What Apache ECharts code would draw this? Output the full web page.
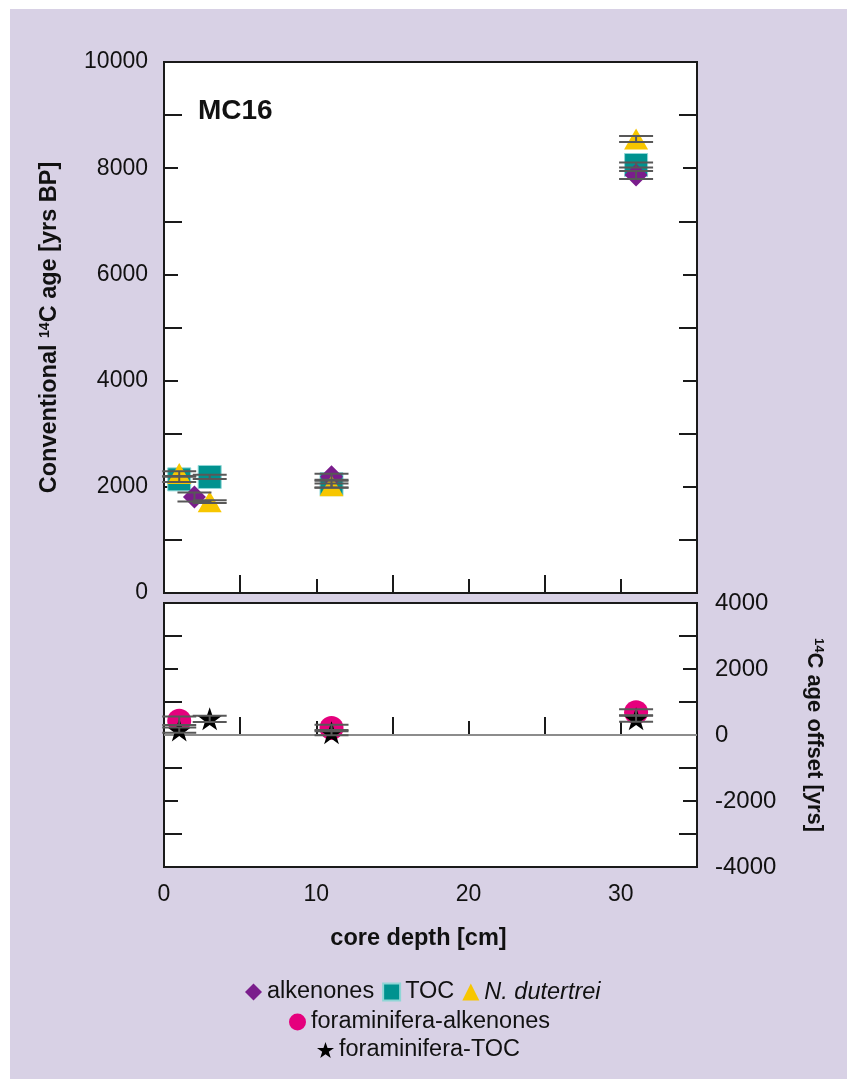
<!DOCTYPE html>
<html><head><meta charset="utf-8">
<script src="https://cdn.jsdelivr.net/npm/echarts@6/dist/echarts.min.js"></script>
<style>html,body{margin:0;padding:0;background:#fff}#c{width:847px;height:1079px}</style>
</head><body><div id="c"></div>
<script>
// ---- data ----
const alkDepth = [2, 11, 31];
const alkAge   = [1810, 2190, 7870];
const alkErr   = [85, 57, 75];

const tocDepth = [1, 3, 11, 31];
const tocAge   = [2140, 2185, 2050, 8060];
const tocErr   = [50, 40, 63, 47];

const ndDepth  = [1, 3, 11, 31];
const ndAge    = [2250, 1720, 2020, 8550];
const ndErr    = [45, 25, 40, 55];

const faDepth  = [1, 11, 31];
const faOffset = [430, 210, 690];
const faErr    = [130, 100, 90];

const ftDepth  = [1, 3, 11, 31];
const ftOffset = [150, 490, 70, 490];
const ftErr    = [80, 95, 80, 90];

const zeroLine = [[0, 0], [35, 0]];

// ---- styles ----
const FONT = "'Liberation Sans', Arial, Helvetica, sans-serif";
const INK = '#111';
const STAR = 'path://M50,0 L61.8,35.1 L98.9,35.1 L69,56.7 L80.3,91.9 L50,70.2 L19.7,91.9 L31,56.7 L1.1,35.1 L38.2,35.1 Z';

const pts = (x, y) => x.map((v, i) => [v, y[i]]);
const errs = (x, y, e) => x.map((v, i) => [v, y[i], e[i]]);

function errRender(params, api) {
  const x = api.value(0), y = api.value(1), e = api.value(2);
  const t = api.coord([x, y + e]);
  const b = api.coord([x, y - e]);
  const hw = 17;
  const st = { stroke: '#585858', lineWidth: 2 };
  return { type: 'group', children: [
    { type: 'line', shape: { x1: t[0] - hw, y1: t[1], x2: t[0] + hw, y2: t[1] }, style: st },
    { type: 'line', shape: { x1: b[0] - hw, y1: b[1], x2: b[0] + hw, y2: b[1] }, style: st },
    { type: 'line', shape: { x1: t[0], y1: t[1], x2: b[0], y2: b[1] }, style: st }
  ]};
}
function errSeries(name, x, y, e, xi) {
  return { name, type: 'custom', xAxisIndex: xi, yAxisIndex: xi === 0 ? 0 : 2,
    renderItem: errRender, data: errs(x, y, e), z: 6, silent: true };
}

const tickBase = {
  axisLine: { show: true, lineStyle: { color: '#1a1a1a', width: 2 } },
  axisTick: { show: true, inside: true, length: 14, lineStyle: { color: '#1a1a1a', width: 2 } },
  minorTick: { show: true, splitNumber: 2, length: 18, lineStyle: { color: '#1a1a1a', width: 2 } },
  splitLine: { show: false }, minorSplitLine: { show: false }
};
const labelStyle = { color: INK, fontSize: 23, fontFamily: FONT };
const legendText = { color: INK, fontSize: 23.5, fontFamily: FONT };

function xAx(gi, showLabel, extra) {
  return Object.assign({ type: 'value', gridIndex: gi, min: 0, max: 35, interval: 10, position: 'bottom',
    axisLabel: Object.assign({ show: showLabel, margin: 16, formatter: v => (v > 30 ? '' : String(v)) }, labelStyle) }, tickBase, extra || {});
}
function yAx(gi, pos, min, max, showLabel, extra) {
  return Object.assign({ type: 'value', gridIndex: gi, position: pos, min, max, interval: 2000,
    axisLabel: Object.assign({ show: showLabel, margin: pos === 'left' ? 16 : 18, formatter: v => String(v) }, labelStyle,
      pos === 'right' ? { fontSize: 24 } : {}) }, tickBase, extra || {});
}

const nameRich = (fs) => ({
  b: { fontSize: fs, fontWeight: 'bold', fontFamily: FONT, color: INK },
  s: { fontSize: Math.round(fs * 0.6), fontWeight: 'bold', fontFamily: FONT, color: INK, verticalAlign: 'top', padding: [0, 0, 8, 0] }
});

const option = {
  backgroundColor: 'rgb(216,209,229)',
  animation: false,
  graphic: [
    { type: 'rect', left: 0, top: 0, shape: { width: 847, height: 9 }, style: { fill: '#fff' }, z: 100 },
    { type: 'rect', left: 0, top: 0, shape: { width: 10, height: 1079 }, style: { fill: '#fff' }, z: 100 },
    { type: 'text', left: 198, top: 97, style: { text: 'MC16', fontSize: 28, fontWeight: 'bold', fontFamily: FONT, fill: INK }, z: 100 }
  ],
  grid: [
    { left: 164, top: 62, width: 533, height: 531, show: true, backgroundColor: '#fff', borderColor: '#1a1a1a', borderWidth: 2 },
    { left: 164, top: 603, width: 533, height: 264, show: true, backgroundColor: '#fff', borderColor: '#1a1a1a', borderWidth: 2 }
  ],
  xAxis: [
    xAx(0, false),
    xAx(1, true, { name: 'core depth [cm]', nameLocation: 'middle', nameGap: 60,
      nameTextStyle: { fontSize: 23.5, fontWeight: 'bold', fontFamily: FONT, color: INK, padding: [0, 24, 0, 0] } })
  ],
  yAxis: [
    yAx(0, 'left', 0, 10000, true, { name: '{b|Conventional }{s|14}{b|C age [yrs BP]}', nameLocation: 'middle', nameGap: 102,
      nameTextStyle: { rich: nameRich(23.5) } }),
    yAx(0, 'right', 0, 10000, false),
    yAx(1, 'left', -4000, 4000, false),
    yAx(1, 'right', -4000, 4000, true, { name: '{s|14}{b|C age offset [yrs]}', nameLocation: 'middle', nameGap: 106, nameRotate: -90,
      nameTextStyle: { rich: nameRich(22) } })
  ],
  legend: [
    { left: 245, top: 980, padding: 0, itemWidth: 17, itemHeight: 17, itemGap: 8, textStyle: legendText,
      data: ['alkenones', 'TOC', { name: 'N. dutertrei', textStyle: { fontStyle: 'italic' } }] },
    { left: 289, top: 1010, padding: 0, itemWidth: 17, itemHeight: 17, textStyle: legendText, data: ['foraminifera-alkenones'] },
    { left: 317, top: 1038, padding: 0, itemWidth: 17, itemHeight: 17, textStyle: legendText, data: ['foraminifera-TOC'] }
  ],
  series: [
    { name: 'TOC', type: 'scatter', xAxisIndex: 0, yAxisIndex: 0, symbol: 'rect', symbolSize: 23,
      itemStyle: { color: '#00928f', borderColor: '#8fd6d6', borderWidth: 1, opacity: 1 }, data: pts(tocDepth, tocAge), z: 2 },
    { name: 'alkenones', type: 'scatter', xAxisIndex: 0, yAxisIndex: 0, symbol: 'diamond', symbolSize: 23,
      itemStyle: { color: '#7a1d8c', opacity: 1 }, data: pts(alkDepth, alkAge), z: 3 },
    { name: 'N. dutertrei', type: 'scatter', xAxisIndex: 0, yAxisIndex: 0, symbol: 'triangle', symbolSize: [24, 21],
      itemStyle: { color: '#f7c600', opacity: 1 }, data: pts(ndDepth, ndAge), z: 4 },
    errSeries('e-toc', tocDepth, tocAge, tocErr, 0),
    errSeries('e-alk', alkDepth, alkAge, alkErr, 0),
    errSeries('e-nd', ndDepth, ndAge, ndErr, 0),

    { name: 'zero', type: 'line', xAxisIndex: 1, yAxisIndex: 2, data: zeroLine, showSymbol: false, silent: true,
      lineStyle: { color: '#8c8c8c', width: 2 }, z: 1 },
    { name: 'foraminifera-alkenones', type: 'scatter', xAxisIndex: 1, yAxisIndex: 2, symbol: 'circle', symbolSize: 24,
      itemStyle: { color: '#e5007d', opacity: 1 }, data: pts(faDepth, faOffset), z: 3 },
    { name: 'foraminifera-TOC', type: 'scatter', xAxisIndex: 1, yAxisIndex: 2, symbol: STAR, symbolSize: [24, 23],
      itemStyle: { color: '#000', opacity: 1 }, data: pts(ftDepth, ftOffset), z: 4 },
    errSeries('e-fa', faDepth, faOffset, faErr, 1),
    errSeries('e-ft', ftDepth, ftOffset, ftErr, 1)
  ]
};

const chart = echarts.init(document.getElementById('c'), null, { renderer: 'canvas' });
chart.setOption(option);
</script>
</body></html>
